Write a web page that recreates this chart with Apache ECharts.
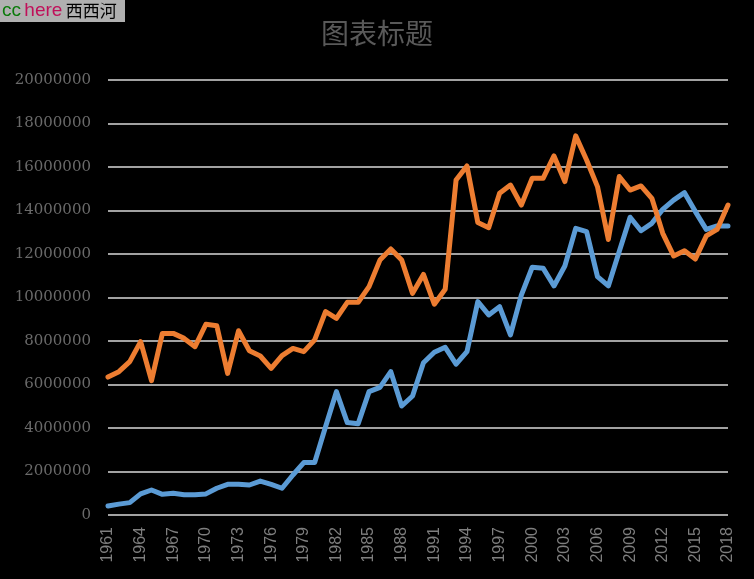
<!DOCTYPE html>
<html>
<head>
<meta charset="utf-8">
<script src="https://cdn.jsdelivr.net/npm/echarts@6/dist/echarts.min.js"></script>
<style>
html,body{margin:0;padding:0;background:#000;}
#chart{width:754px;height:579px;}
</style>
</head>
<body>
<div id="chart"></div>
<script>
const years = [];
for (let y = 1961; y <= 2018; y++) years.push(String(y));

const seriesBlue = [
  410000, 500000, 570000, 970000, 1150000, 950000, 1000000, 930000, 930000, 970000,
  1230000, 1410000, 1410000, 1380000, 1560000, 1410000, 1230000, 1840000, 2410000, 2410000,
  4060000, 5670000, 4250000, 4200000, 5670000, 5870000, 6590000, 5010000, 5470000, 7000000,
  7480000, 7710000, 6940000, 7510000, 9810000, 9200000, 9580000, 8280000, 10110000, 11390000,
  11350000, 10530000, 11450000, 13180000, 13030000, 10960000, 10530000, 12110000, 13690000, 13070000,
  13410000, 14050000, 14480000, 14820000, 13950000, 13130000, 13290000, 13290000
];

const seriesOrange = [
  6340000, 6590000, 7050000, 7970000, 6180000, 8350000, 8350000, 8120000, 7740000, 8770000,
  8700000, 6510000, 8470000, 7550000, 7310000, 6740000, 7330000, 7660000, 7510000, 8050000,
  9350000, 9040000, 9780000, 9780000, 10500000, 11720000, 12230000, 11720000, 10190000, 11060000,
  9690000, 10380000, 15400000, 16050000, 13450000, 13210000, 14790000, 15170000, 14250000, 15480000,
  15480000, 16510000, 15330000, 17430000, 16320000, 15100000, 12670000, 15560000, 14940000, 15130000,
  14560000, 12950000, 11910000, 12150000, 11770000, 12830000, 13130000, 14250000
];

const titleText = '图表标题';

const chart = echarts.init(document.getElementById('chart'));
chart.setOption({
  backgroundColor: '#000000',
  animation: false,
  title: {
    text: titleText,
    left: 'center',
    top: 14,
    textStyle: { color: '#595959', fontSize: 28, fontWeight: 'normal', fontFamily: 'Noto Sans CJK SC' }
  },
  graphic: [{
    type: 'group',
    left: 0,
    top: 0,
    children: [
      { type: 'rect', shape: { x: 0, y: 0, width: 125, height: 22 }, style: { fill: '#b0b0b0' } },
      {
        type: 'text',
        x: 2, y: 11,
        style: {
          text: '{a|cc} {b|here} {c|西西河}',
          verticalAlign: 'middle',
          rich: {
            a: { fill: '#0a7a0a', fontSize: 19, fontFamily: 'Liberation Sans' },
            b: { fill: '#c0105a', fontSize: 19, fontFamily: 'Liberation Sans' },
            c: { fill: '#000000', fontSize: 17, fontFamily: 'Noto Sans CJK SC' }
          }
        }
      }
    ]
  }],
  grid: { left: 108, right: 26, top: 80, bottom: 64 },
  xAxis: {
    type: 'category',
    data: years,
    boundaryGap: false,
    axisLine: { show: false },
    axisTick: { show: false },
    axisLabel: {
      interval: 2,
      rotate: 90,
      color: '#7f7f7f',
      fontSize: 16,
      fontFamily: 'Liberation Sans',
      margin: 12
    },
    splitLine: { show: false }
  },
  yAxis: {
    type: 'value',
    min: 0,
    max: 20000000,
    interval: 2000000,
    axisLine: { show: false },
    axisTick: { show: false },
    axisLabel: { color: '#6a6a6a', fontSize: 15, fontFamily: 'DejaVu Serif', margin: 17, formatter: v => String(v) },
    splitLine: { lineStyle: { color: '#d9d9d9', width: 1.5 } }
  },
  series: [
    {
      name: 'A', type: 'line', data: seriesBlue, showSymbol: false,
      lineStyle: { color: '#5b9bd5', width: 5, cap: 'round', join: 'round' }, itemStyle: { color: '#5b9bd5' }
    },
    {
      name: 'B', type: 'line', data: seriesOrange, showSymbol: false,
      lineStyle: { color: '#ed7d31', width: 5, cap: 'round', join: 'round' }, itemStyle: { color: '#ed7d31' }
    }
  ]
});
</script>
</body>
</html>
